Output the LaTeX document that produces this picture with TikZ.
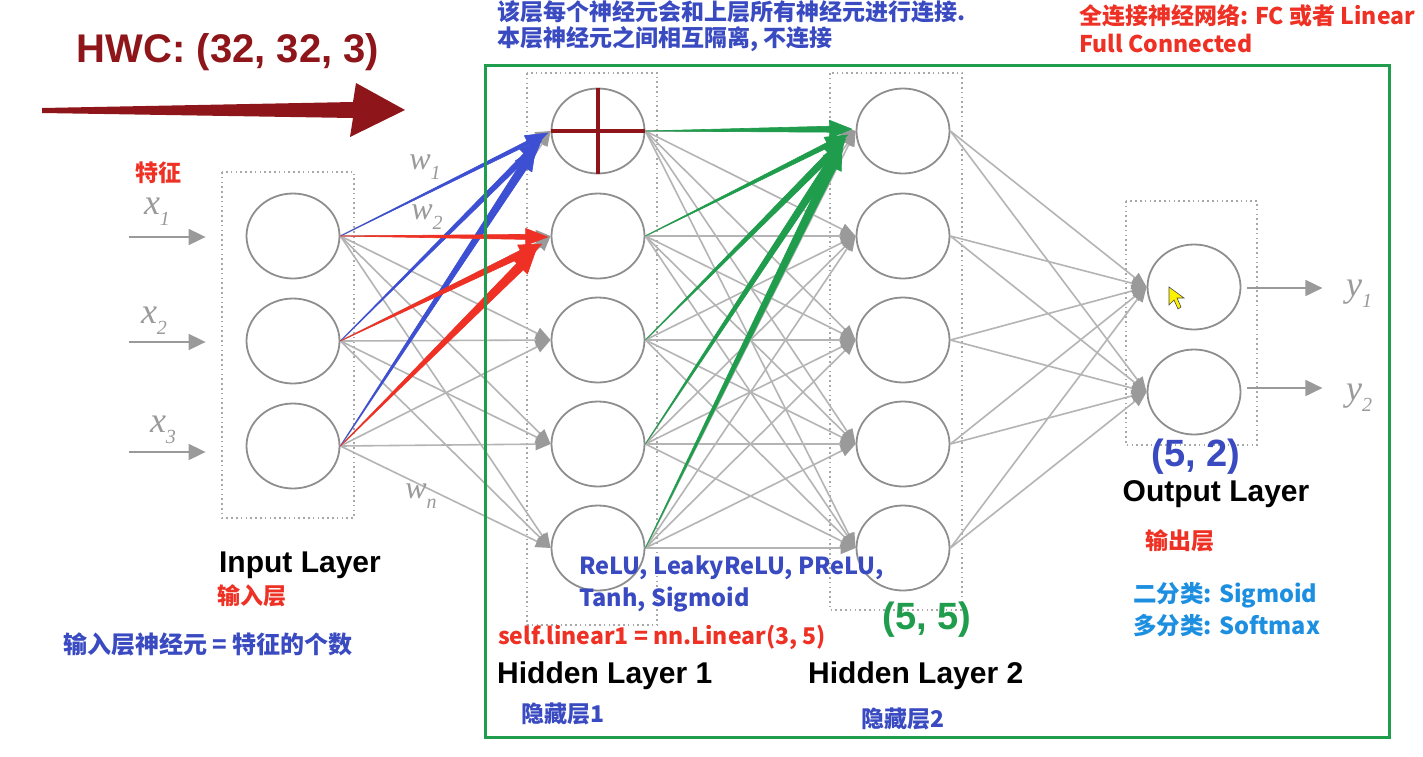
\documentclass[tikz,border=0pt]{standalone}
\usepackage{fontspec}
\setmainfont{Liberation Sans}
\newfontfamily\cjk{Noto Sans CJK SC}
\newfontfamily\varfont{Liberation Serif}
\usetikzlibrary{positioning, arrows.meta, shapes.geometric, calc}

\definecolor{hwcRed}    {HTML}{8E1519}
\definecolor{annRed}    {HTML}{EE3124}
\definecolor{annBlue}   {HTML}{3A4BC2}
\definecolor{lineBlue}  {HTML}{3D4FD3}
\definecolor{skyBlue}   {HTML}{1D8FE1}
\definecolor{fcGreen}   {HTML}{1F9D4C}
\definecolor{edgeGray}  {HTML}{B4B4B4}
\definecolor{headGray}  {HTML}{9A9A9A}
\definecolor{ringGray}  {HTML}{8E8E8E}
\definecolor{boxGray}   {HTML}{A8A8A8}

\newcommand{\annfont}[2]{\cjk\bfseries\fontsize{#1}{#2}\selectfont}
% italic variable with subscript
\newcommand{\var}[2]{{\varfont\itshape #1}\raisebox{-0.3em}{\varfont\itshape\fontsize{20}{20}\selectfont #2}}
% tapered coloured arrow: colour, from, to, end half width
\newcommand{\taper}[4]{%
  \path (#3) coordinate (tpB);
  \path ($(tpB)!22pt!(#2)$) coordinate (tpC);
  \filldraw[#1, line width=0.6pt, line join=round]
    (#2) -- ($(tpC)!#4!90:(tpB)$) -- ($(tpC)!#4+6pt!90:(tpB)$) -- (tpB)
    -- ($(tpC)!#4+6pt!-90:(tpB)$) -- ($(tpC)!#4!-90:(tpB)$) -- cycle;}

\begin{document}
\begin{tikzpicture}[x=1pt, y=-1pt,
    neuron/.style={ellipse, draw=ringGray, line width=1.8pt, fill=white,
                   minimum width=93pt, minimum height=85pt, inner sep=0pt},
    edge/.style={draw=edgeGray, line width=1.6pt,
                 -{Triangle[length=15pt, width=12pt, color=headGray]}},
    ioarrow/.style={draw=headGray, line width=1.8pt, -{Triangle[length=17pt, width=16pt]}},
    layerbox/.style={draw=boxGray, line width=1.6pt, dash pattern=on 1.6pt off 3.2pt},
    crossline/.style={draw=hwcRed, line width=3.5pt},
    title/.style={font=\bfseries\fontsize{30}{36}\selectfont, text=black, inner sep=0pt},
    shapelabel/.style={font=\bfseries\fontsize{38}{42}\selectfont, inner sep=0pt},
    varlabel/.style={text=headGray, font=\fontsize{36}{38}\selectfont, inner sep=0pt}]
  \fill[white] (0,0) rectangle (1423,756);
  \useasboundingbox (0,0) rectangle (1423,756);

  % dotted layer boxes
  \draw[layerbox] (222,172) rectangle (354,518);
  \draw[layerbox] (527,73) rectangle (657,625);
  \draw[layerbox] (830,73) rectangle (962,610);
  \draw[layerbox] (1126,201) rectangle (1257,445);

  % neurons
  \foreach \i/\y in {1/236,2/341,3/446}
    \node[neuron] (in\i) at (293,\y) {};
  \foreach \i/\y in {1/131,2/236,3/340,4/444,5/548} {
    \node[neuron] (ha\i) at (598,\y) {};
    \node[neuron] (hb\i) at (903,\y) {};
  }
  \foreach \i/\y in {1/287,2/392}
    \node[neuron] (out\i) at (1194,\y) {};

  % full connections
  \foreach \i in {1,2,3}
    \foreach \j in {1,...,5}
      \draw[edge] (in\i.east) -- (ha\j.west);
  \foreach \i in {1,...,5}
    \foreach \j in {1,...,5}
      \draw[edge] (ha\i.east) -- (hb\j.west);
  \foreach \i in {1,...,5}
    \foreach \j in {1,2}
      \draw[edge] (hb\i.east) -- (out\j.west);

  % inputs and outputs
  \foreach \i/\dy in {1/1,2/1,3/6} {
    \coordinate (xs\i) at ($(in\i.west)+(-117,\dy)$);
    \coordinate (xe\i) at ($(in\i.west)+(-40,\dy)$);
    \draw[ioarrow] (xs\i) -- (xe\i);
  }
  \foreach \i/\dy in {1/1,2/-4} {
    \coordinate (ys\i) at ($(out\i.east)+(6,\dy)$);
    \coordinate (ye\i) at ($(out\i.east)+(81,\dy)$);
    \draw[ioarrow] (ys\i) -- (ye\i);
  }
  \node[varlabel] (lx1) at (157,212) {\var{x}{1}};
  \node[varlabel] (lx2) at (154,321) {\var{x}{2}};
  \node[varlabel] (lx3) at (163,430) {\var{x}{3}};
  \node[varlabel] (ly1) at (1359,294) {\var{y}{1}};
  \node[varlabel] (ly2) at (1359,398) {\var{y}{2}};
  \node[varlabel, font=\fontsize{32}{34}\selectfont] (lw1) at (425,167) {\var{w}{1}};
  \node[varlabel, font=\fontsize{32}{34}\selectfont] (lw2) at (427,217) {\var{w}{2}};
  \node[varlabel, font=\fontsize{32}{34}\selectfont] (lwn) at (421,496) {\var{w}{n}};

  % highlighted weights
  \taper{lineBlue}{in1.east}{$(ha1.west)+(-3,2)$}{2pt}
  \taper{lineBlue}{in2.east}{$(ha1.west)+(-9,9)$}{3pt}
  \taper{lineBlue}{in3.east}{$(ha1.west)+(-15,17)$}{4pt}
  \taper{annRed}{in1.east}{$(ha2.west)+(-3,1)$}{2.5pt}
  \taper{annRed}{in2.east}{$(ha2.west)+(-9,8)$}{3.5pt}
  \taper{annRed}{in3.east}{$(ha2.west)+(-15,15)$}{4.5pt}
  \taper{fcGreen}{ha1.east}{$(hb1.west)+(-4,-2)$}{3pt}
  \taper{fcGreen}{ha2.east}{$(hb1.west)+(-8,4)$}{2.5pt}
  \taper{fcGreen}{ha3.east}{$(hb1.west)+(-10,8)$}{3.5pt}
  \taper{fcGreen}{ha4.east}{$(hb1.west)+(-12,12)$}{4pt}
  \taper{fcGreen}{ha5.east}{$(hb1.west)+(-14,16)$}{4.5pt}

  % summation mark
  \draw[crossline] (ha1.west) -- (ha1.east);
  \draw[crossline] (ha1.north) -- (ha1.south);

  % fully connected frame
  \draw[fcGreen, line width=3pt] (485,65) rectangle (1389,737);

  % input shape arrow
  \node[font=\bfseries\fontsize{40}{44}\selectfont, text=hwcRed, inner sep=0pt] (hwc) at (228,52) {HWC: (32, 32, 3)};
  \fill[hwcRed] (42,108) -- (353,102) -- (356,83) -- (405,110) -- (350,137)
    -- (353,118) -- (42,113) -- cycle;

  % annotations
  \node[font=\annfont{23}{26}, text=annBlue, anchor=west, align=left, inner sep=0pt] (note)
    at (497,26) {该层每个神经元会和上层所有神经元进行连接.\\本层神经元之间相互隔离, 不连接};
  \node[font=\annfont{23}{28}, text=annRed, anchor=west, align=left, inner sep=0pt] (fc)
    at (1079,29) {全连接神经网络: FC 或者 Linear\\Full Connected};
  \node[font=\annfont{23}{26}, text=annRed, inner sep=0pt] (feat) at (158,173) {特征};

  \node[title] (inTitle) at (300,565) {Input Layer};
  \node[font=\annfont{23}{26}, text=annRed, anchor=west, inner sep=0pt] (inCn) at (217,596) {输入层};
  \node[font=\annfont{24}{26}, text=annBlue, anchor=west, inner sep=0pt] (inNote) at (63,644) {输入层神经元 = 特征的个数};

  \node[font=\annfont{23.5}{32}, text=annBlue, anchor=west, align=left, inner sep=0pt] (act)
    at (579,584) {ReLU, LeakyReLU, PReLU,\\Tanh, Sigmoid};
  \node[font=\annfont{23}{26}, text=annRed, anchor=west, inner sep=0pt] (code) at (498,637) {self.linear1 = nn.Linear(3, 5)};
  \node[title, anchor=west] (haTitle) at (497,676) {Hidden Layer 1};
  \node[title, anchor=west] (hbTitle) at (808,676) {Hidden Layer 2};
  \node[font=\annfont{23}{26}, text=annBlue, anchor=west, inner sep=0pt] (haCn) at (521,714) {隐藏层1};
  \node[font=\annfont{23}{26}, text=annBlue, anchor=west, inner sep=0pt] (hbCn) at (861,719) {隐藏层2};
  \node[shapelabel, text=fcGreen] (hbShape) at (927,620) {(5, 5)};

  \node[shapelabel, text=annBlue] (outShape) at (1196,457) {(5, 2)};
  \node[title] (outTitle) at (1216,494) {Output Layer};
  \node[font=\annfont{23}{26}, text=annRed, inner sep=0pt] (outCn) at (1180,541) {输出层};
  \node[font=\annfont{23.5}{32}, text=skyBlue, anchor=west, align=left, inner sep=0pt] (task)
    at (1133,610) {二分类: Sigmoid\\多分类: Softmax};

  % mouse pointer
  \filldraw[fill=yellow, draw=black!70, line width=0.6pt]
    (1169,287) -- (1169,305) -- (1174,300) -- (1178,309) -- (1181,307)
    -- (1177,298) -- (1184,298) -- cycle;
\end{tikzpicture}
\end{document}
